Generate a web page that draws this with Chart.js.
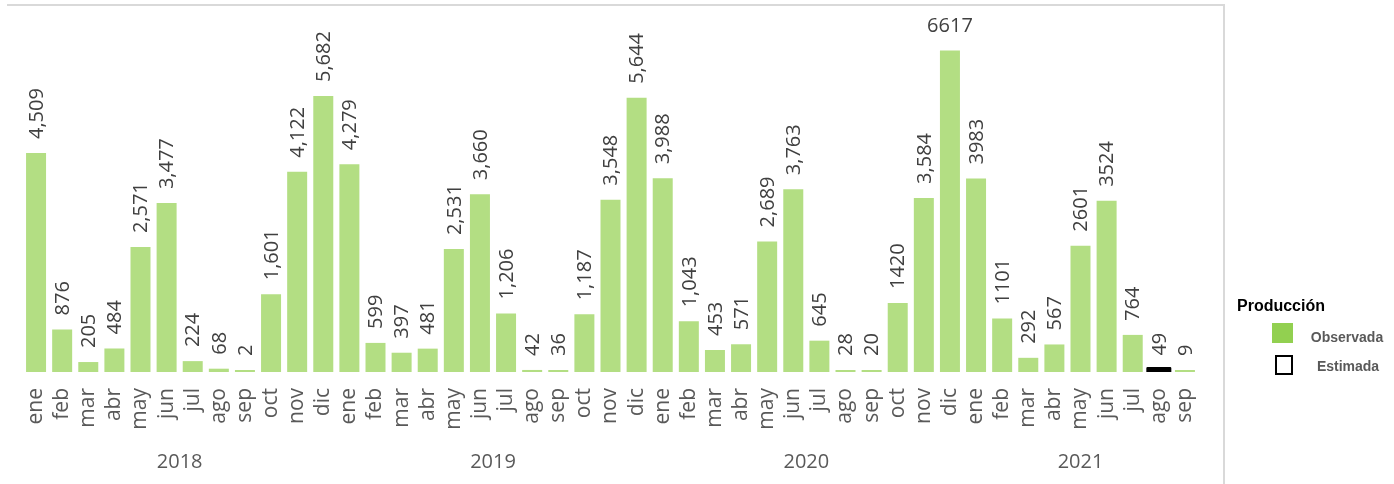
<!DOCTYPE html>
<html><head><meta charset="utf-8">
<script src="https://cdn.jsdelivr.net/npm/chart.js@4.4.0/dist/chart.umd.min.js"></script>
<style>html,body{margin:0;padding:0;background:#fff;}canvas{display:block;}</style>
</head><body>
<canvas id="c" width="1394" height="484"></canvas>
<script>
const months = [
  'ene','feb','mar','abr','may','jun','jul','ago','sep','oct','nov','dic',
  'ene','feb','mar','abr','may','jun','jul','ago','sep','oct','nov','dic',
  'ene','feb','mar','abr','may','jun','jul','ago','sep','oct','nov','dic',
  'ene','feb','mar','abr','may','jun','jul','ago','sep'
];
const yearNames = ['2018','2019','2020','2021'];
const yearMonthCounts = [12, 12, 12, 9];
const observada = [
  4509, 876, 205, 484, 2571, 3477, 224, 68, 2, 1601, 4122, 5682,
  4279, 599, 397, 481, 2531, 3660, 1206, 42, 36, 1187, 3548, 5644,
  3988, 1043, 453, 571, 2689, 3763, 645, 28, 20, 1420, 3584, 6617,
  3983, 1101, 292, 567, 2601, 3524, 764, null, 9
];
const estimada = [
  null, null, null, null, null, null, null, null, null, null, null, null,
  null, null, null, null, null, null, null, null, null, null, null, null,
  null, null, null, null, null, null, null, null, null, null, null, null,
  null, null, null, null, null, null, null, 49, null
];
const valueLabels = [
  '4,509','876','205','484','2,571','3,477','224','68','2','1,601','4,122','5,682',
  '4,279','599','397','481','2,531','3,660','1,206','42','36','1,187','3,548','5,644',
  '3,988','1,043','453','571','2,689','3,763','645','28','20','1420','3,584','6617',
  '3983','1101','292','567','2601','3524','764','49','9'
];
const legendTitle = 'Producción';
const seriesNames = ['Observada', 'Estimada'];

const barGreen = 'rgb(179,222,131)';
const legendGreen = 'rgb(146,208,80)';

const valueLabelPlugin = {
  id: 'valueLabels',
  afterDatasetsDraw(chart) {
    const ctx = chart.ctx;
    ctx.save();
    ctx.font = '20px "Open Sans"';
    ctx.fillStyle = '#404040';
    chart.data.datasets.forEach((ds, di) => {
      const meta = chart.getDatasetMeta(di);
      meta.data.forEach((bar, j) => {
        const v = ds.data[j];
        if (v === null || v === undefined) return;
        const text = valueLabels[j];
        const w = ctx.measureText(text).width;
        const gap = 14;
        if (bar.y - gap - w < 6) {
          ctx.textAlign = 'center';
          ctx.textBaseline = 'middle';
          ctx.fillText(text, bar.x, bar.y - 24);
        } else {
          ctx.save();
          ctx.translate(bar.x, bar.y - gap);
          ctx.rotate(-Math.PI / 2);
          ctx.textAlign = 'left';
          ctx.textBaseline = 'middle';
          ctx.fillText(text, 0, 1);
          ctx.restore();
        }
      });
    });
    ctx.restore();
  }
};

const decorPlugin = {
  id: 'decor',
  afterDraw(chart) {
    const ctx = chart.ctx;
    const xs = chart.scales.x;
    ctx.save();
    // frame
    ctx.strokeStyle = '#D9D9D9';
    ctx.lineWidth = 2;
    ctx.beginPath();
    ctx.moveTo(7, 5);
    ctx.lineTo(1224, 5);
    ctx.lineTo(1224, 484);
    ctx.stroke();
    // year labels
    ctx.font = '20px "Open Sans"';
    ctx.fillStyle = '#595959';
    ctx.textAlign = 'center';
    ctx.textBaseline = 'middle';
    let start = 0;
    yearNames.forEach((y, i) => {
      const end = start + yearMonthCounts[i] - 1;
      const cx = (xs.getPixelForValue(start) + xs.getPixelForValue(end)) / 2;
      ctx.fillText(y, cx, 462);
      start = end + 1;
    });
    // legend
    ctx.textAlign = 'left';
    ctx.fillStyle = '#000000';
    ctx.font = 'bold 16px "Liberation Sans"';
    ctx.fillText(legendTitle, 1237, 307);
    ctx.fillStyle = legendGreen;
    ctx.fillRect(1272, 323, 21, 20);
    ctx.fillStyle = '#ffffff';
    ctx.fillRect(1276, 356, 16, 18);
    ctx.strokeStyle = '#000000';
    ctx.lineWidth = 2;
    ctx.strokeRect(1276, 356, 16, 18);
    ctx.fillStyle = '#595959';
    ctx.font = 'bold 14px "Liberation Sans"';
    ctx.textAlign = 'center';
    ctx.fillText(seriesNames[0], 1347, 338);
    ctx.fillText(seriesNames[1], 1348, 367);
    ctx.restore();
  }
};

new Chart(document.getElementById('c'), {
  type: 'bar',
  data: {
    labels: months,
    datasets: [
      {
        label: seriesNames[0],
        data: observada,
        backgroundColor: barGreen,
        borderWidth: 0,
        minBarLength: 2,
        barPercentage: 0.766,
        categoryPercentage: 1.0
      },
      {
        label: seriesNames[1],
        data: estimada,
        backgroundColor: '#000000',
        borderWidth: 0,
        borderRadius: 3,
        borderSkipped: false,
        inflateAmount: 2.5,
        barPercentage: 0.766,
        categoryPercentage: 1.0
      }
    ]
  },
  options: {
    responsive: false,
    animation: false,
    layout: { padding: { left: 23, right: 196, top: 32, bottom: 0 } },
    plugins: {
      legend: { display: false },
      tooltip: { enabled: false },
      title: { display: false }
    },
    scales: {
      x: {
        stacked: true,
        grid: { display: false, drawTicks: false },
        border: { display: false },
        ticks: {
          autoSkip: false,
          minRotation: 90,
          maxRotation: 90,
          padding: 16,
          color: '#595959',
          font: { family: '"Open Sans"', size: 21 }
        },
        afterFit(scale) { scale.height = 112; }
      },
      y: {
        stacked: true,
        display: false,
        min: 0,
        max: 7000
      }
    }
  },
  plugins: [valueLabelPlugin, decorPlugin]
});
</script>
</body></html>
